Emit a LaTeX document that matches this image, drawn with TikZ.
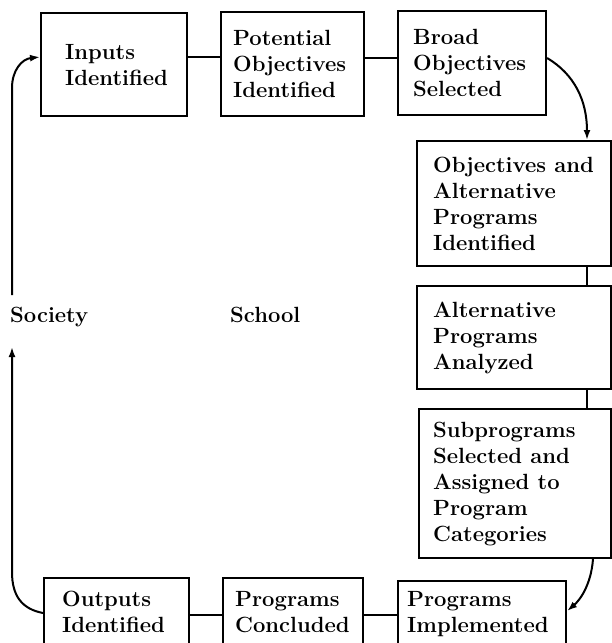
\documentclass[tikz,border=0pt]{standalone}
\usetikzlibrary{arrows.meta}
\begin{document}
\begin{tikzpicture}[x=1pt,y=-1pt,
  stagebox/.style={draw, line width=2.1pt, rectangle, inner sep=0pt, anchor=north west},
  stagetext/.style={font=\fontsize{22}{26}\selectfont\bfseries, align=left, inner sep=0pt, anchor=west},
  label text/.style={font=\fontsize{22}{26}\selectfont\bfseries, inner sep=0pt, anchor=base west},
  link/.style={line width=2pt},
  flow/.style={line width=2pt, -{Latex[length=10pt,width=7pt]}}]
\clip (0,0) rectangle (612,643);
\useasboundingbox (0,0) rectangle (612,643);

% stage boxes
\node[stagebox, minimum width=146pt, minimum height=103pt] (b1) at (40,12) {};
\node[stagebox, minimum width=143pt, minimum height=104pt] (b2) at (220,11) {};
\node[stagebox, minimum width=148pt, minimum height=104pt] (b3) at (397,10) {};
\node[stagebox, minimum width=194pt, minimum height=125pt] (b4) at (416,140) {};
\node[stagebox, minimum width=194pt, minimum height=103pt] (b5) at (416,285) {};
\node[stagebox, minimum width=192pt, minimum height=149pt] (b6) at (418,408) {};
\node[stagebox, minimum width=168pt, minimum height=75pt] (b7) at (397,580) {};
\node[stagebox, minimum width=140pt, minimum height=78pt] (b8) at (222,577) {};
\node[stagebox, minimum width=145pt, minimum height=78pt] (b9) at (43,577) {};

% stage captions
\node[stagetext] (t1) at ([xshift=25pt]b1.west) {Inputs\\Identified};
\node[stagetext] (t2) at ([xshift=13pt]b2.west) {Potential\\Objectives\\Identified};
\node[stagetext] (t3) at ([xshift=16pt]b3.west) {Broad\\Objectives\\Selected};
\node[stagetext] (t4) at ([xshift=17pt]b4.west) {Objectives and\\Alternative\\Programs\\Identified};
\node[stagetext] (t5) at ([xshift=17pt]b5.west) {Alternative\\Programs\\Analyzed};
\node[stagetext] (t6) at ([xshift=15pt]b6.west) {Subprograms\\Selected and\\Assigned to\\Program\\Categories};
\node[stagetext, anchor=base west] (t7) at (407,632) {Programs\\Implemented};
\node[stagetext, anchor=base west] (t8) at (235,632) {Programs\\Concluded};
\node[stagetext, anchor=base west] (t9) at (62,632) {Outputs\\Identified};

% side labels
\node[label text] (soc) at (10,322) {Society};
\node[label text] (sch) at (230,322) {School};

% links between stages
\draw[link] (b1.east |- 0,57) -- (b2.west |- 0,57);
\draw[link] (b2.east |- 0,58) -- (b3.west |- 0,58);
\draw[link] (b4.south -| 587,0) -- (b5.north -| 587,0);
\draw[link] (b5.south -| 587,0) -- (b6.north -| 587,0);
\draw[link] (b7.west |- 0,615) -- (b8.east |- 0,615);
\draw[link] (b8.west |- 0,615) -- (b9.east |- 0,615);

% curved transitions
\draw[flow] (b3.east |- 0,58) .. controls (574,74) and (587,100) .. (b4.north -| 587,0);
\draw[flow] (b6.south -| 593,0) .. controls (591,585) and (580,600) .. (b7.east |- 0,611);

% loop back through society
\coordinate (lowend) at (12,347);
\coordinate (topstart) at (12,295);
\draw[flow] (b9.west |- 0,613) .. controls (22,609) and (12,596) .. (12,572) -- (lowend);
\draw[flow] (topstart) -- (12,88) .. controls (12,70) and (22,59) .. (b1.west |- 0,57);
\end{tikzpicture}
\end{document}
